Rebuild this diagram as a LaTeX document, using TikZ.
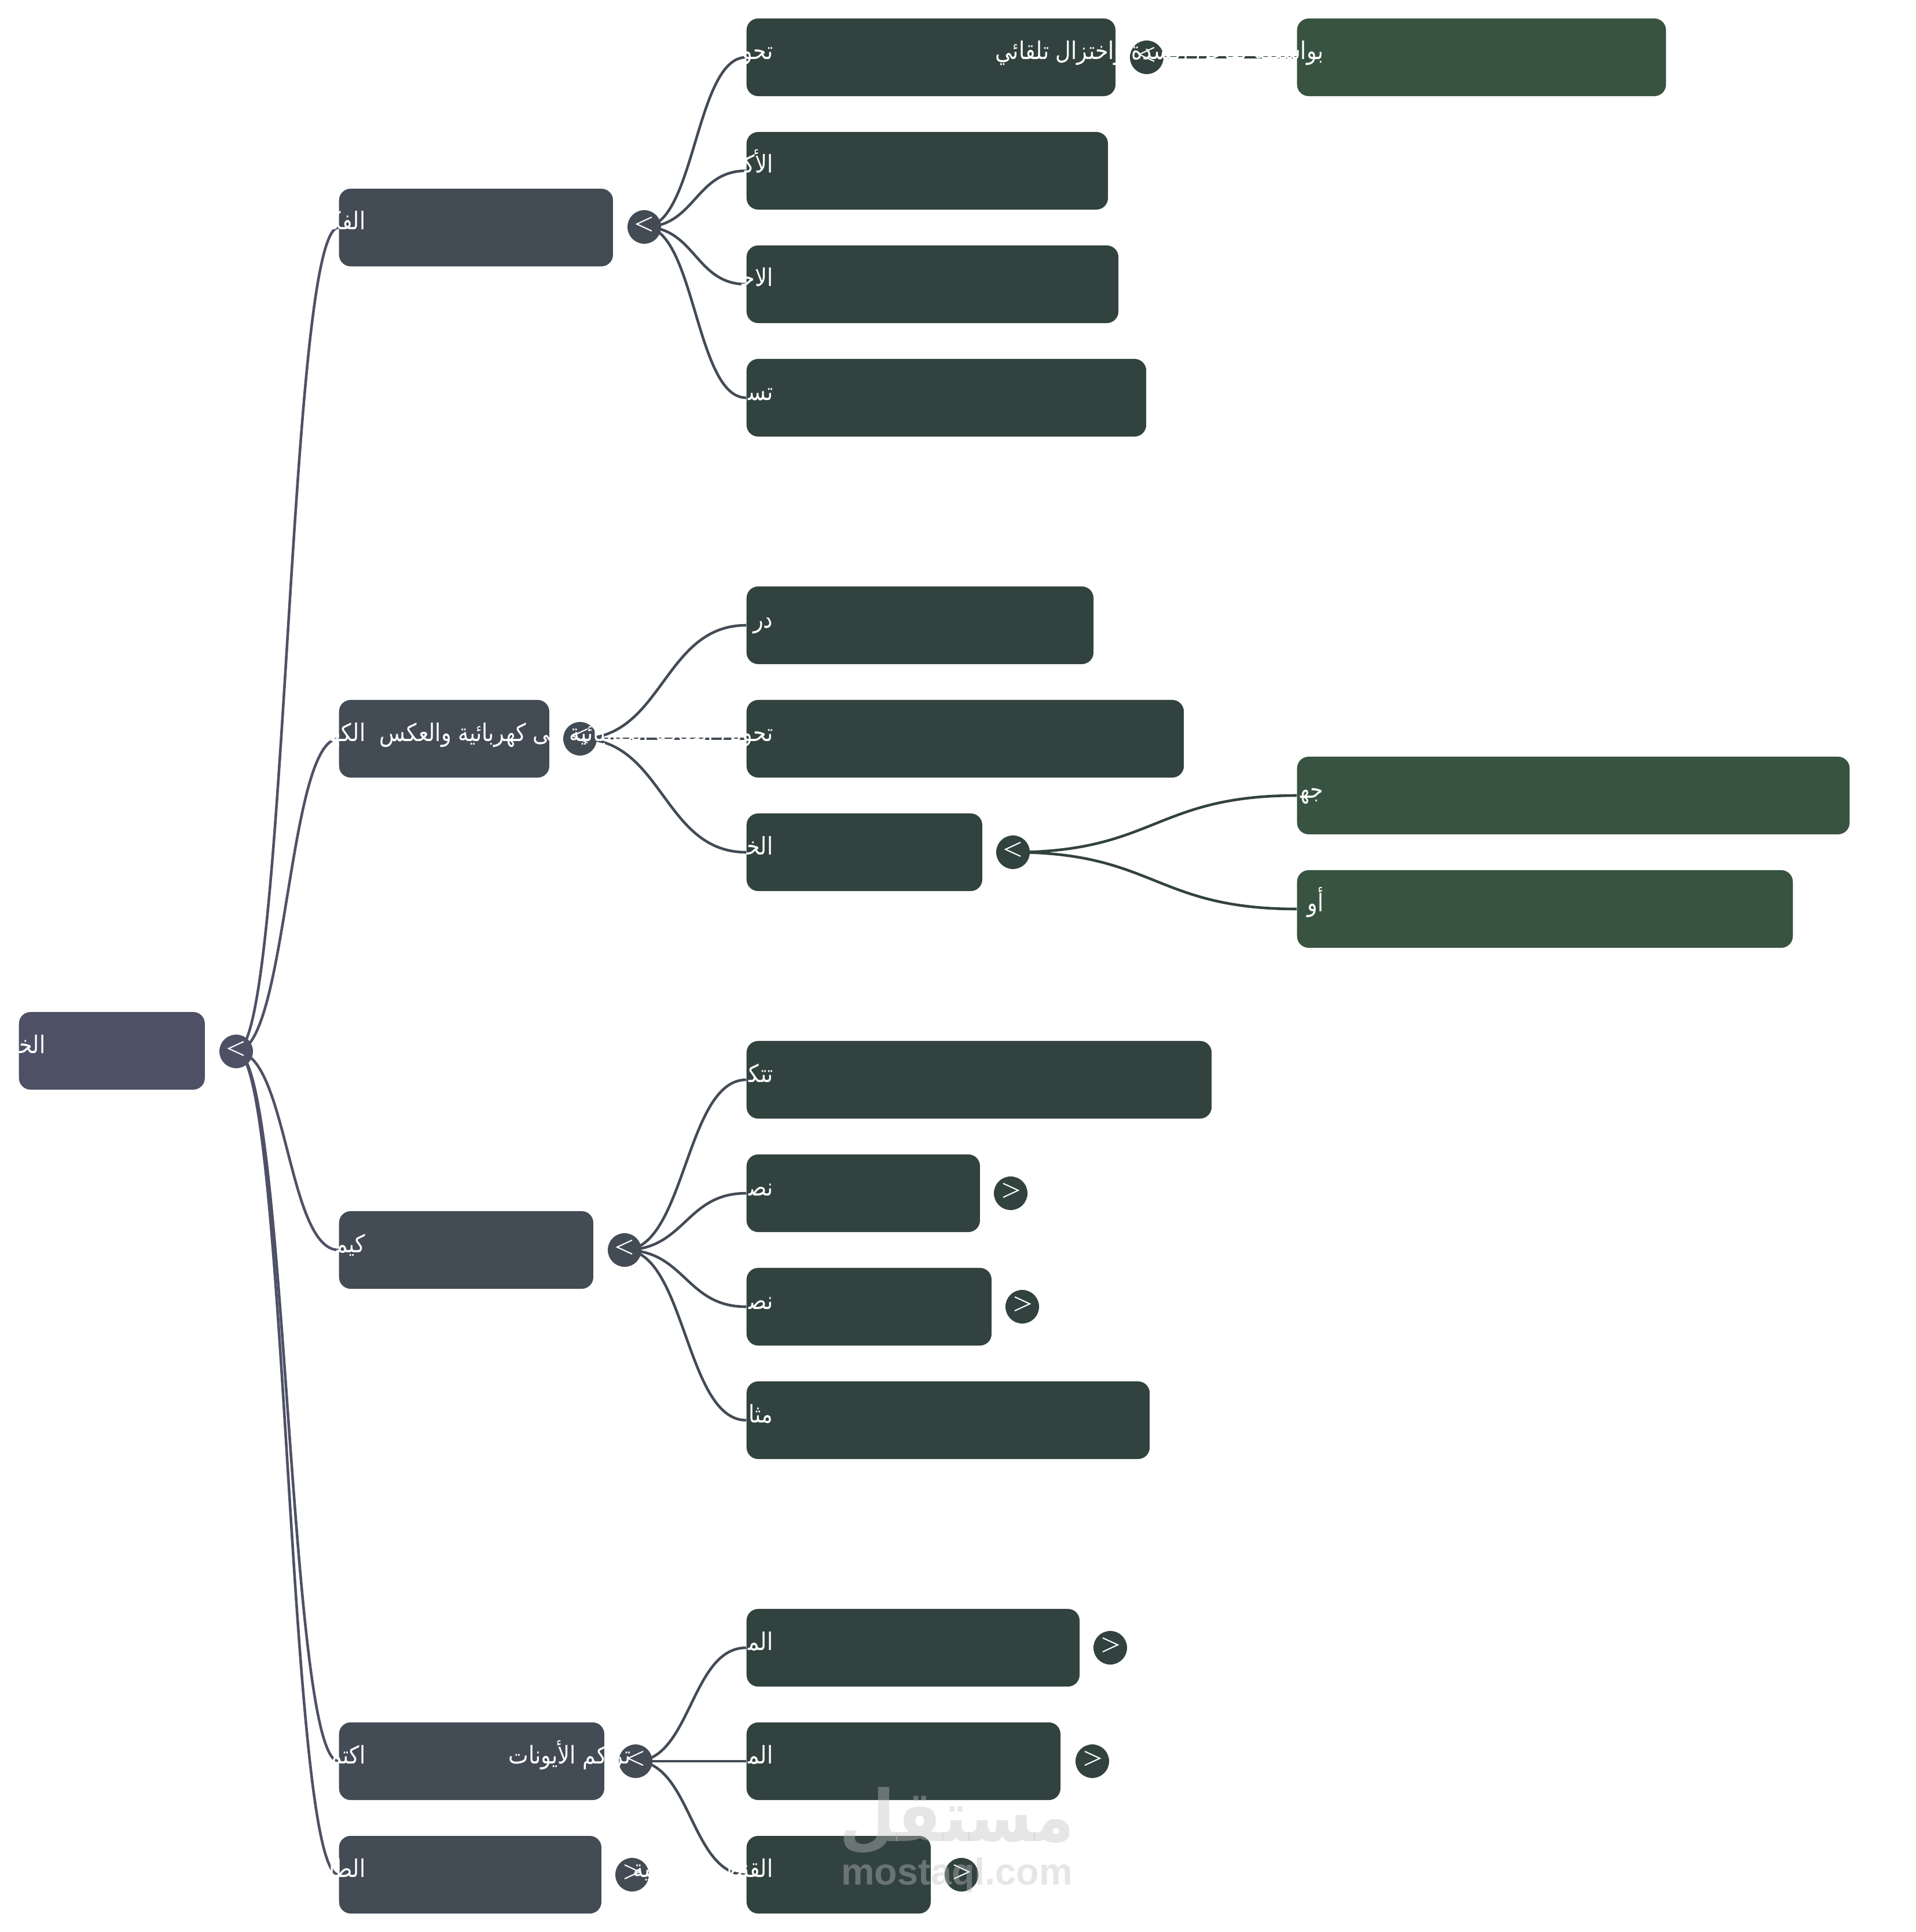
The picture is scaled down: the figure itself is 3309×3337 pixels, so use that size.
\documentclass[tikz,border=0pt]{standalone}
\usepackage{xcolor}
\usepackage{fontspec}
\usepackage{tikz}
\usetikzlibrary{calc,backgrounds}
\TeXXeTstate=1
\newfontfamily\arabicfont[Script=Arabic]{DejaVu Sans}
\newfontfamily\labelfont[Script=Arabic,FakeStretch=0.87]{DejaVu Sans}
\newfontfamily\markfont{Liberation Sans}
\newcommand{\ar}[1]{\beginR #1\endR}
\newcommand{\zj}{^^^^200d}
\definecolor{rootcol}{HTML}{4E5166}
\definecolor{topcol}{HTML}{434B55}
\definecolor{midcol}{HTML}{32423F}
\definecolor{leafcol}{HTML}{385340}
\definecolor{markcol}{HTML}{C0C0C0}
\begin{document}
\begin{tikzpicture}[
    x=0.01cm, y=-0.01cm,
    box/.style={anchor=west, inner sep=0, minimum height=1.34cm, rounded corners=0.2cm},
    rootbox/.style={box, fill=rootcol},
    topbox/.style={box, fill=topcol},
    midbox/.style={box, fill=midcol},
    leafbox/.style={box, fill=leafcol},
    knob/.style={circle, inner sep=0, minimum size=0.58cm},
    openknob/.style={knob, path picture={\draw[white, line width=0.6pt] ($(path picture bounding box.center)+(13,-17)$) -- +(-26,12) -- +(0,24);}},
    shutknob/.style={knob, path picture={\draw[white, line width=0.6pt] ($(path picture bounding box.center)+(-13,-17)$) -- +(26,12) -- +(0,24);}},
    wire/.style={line width=1.3pt},
    txt/.style={anchor=base east, inner sep=0, text=white, font=\fontsize{12}{14}\labelfont}
]
    \useasboundingbox (0,0) rectangle (3309,3337);

    % Root
    \node[rootbox, minimum width=3.21cm] (root) at (32,1815) {};
    \node[openknob, fill=rootcol] (croot) at (408,1816) {};

    % First level
    \node[topbox, minimum width=4.73cm] (fikra) at (585,393) {};
    \node[topbox, minimum width=3.63cm] (kahraba) at (585,1276) {};
    \node[topbox, minimum width=4.39cm] (kimya) at (585,2159) {};
    \node[topbox, minimum width=4.58cm] (iktimal) at (585,3042) {};
    \node[topbox, minimum width=4.53cm] (tali) at (585,3238) {};
    \node[openknob, fill=topcol] (cfikra) at (1113,392) {};
    \node[openknob, fill=topcol] (ckahraba) at (1002,1276) {};
    \node[openknob, fill=topcol] (ckimya) at (1079,2159) {};
    \node[openknob, fill=topcol] (ciktimal) at (1098,3042) {};
    \node[shutknob, fill=topcol] (ctali) at (1092,3238) {};

    % Second level
    \node[midbox, minimum width=6.37cm] (f1) at (1289,99) {};
    \node[midbox, minimum width=6.24cm] (f2) at (1289,295) {};
    \node[midbox, minimum width=6.42cm] (f3) at (1289,491) {};
    \node[midbox, minimum width=6.90cm] (f4) at (1289,687) {};
    \node[midbox, minimum width=5.99cm] (k1) at (1289,1080) {};
    \node[midbox, minimum width=7.55cm] (k2) at (1289,1276) {};
    \node[midbox, minimum width=4.07cm] (k3) at (1289,1472) {};
    \node[midbox, minimum width=8.03cm] (m1) at (1289,1865) {};
    \node[midbox, minimum width=4.03cm] (m2) at (1289,2061) {};
    \node[midbox, minimum width=4.23cm] (m3) at (1289,2257) {};
    \node[midbox, minimum width=6.96cm] (m4) at (1289,2453) {};
    \node[midbox, minimum width=5.75cm] (i1) at (1289,2846) {};
    \node[midbox, minimum width=5.42cm] (i2) at (1289,3042) {};
    \node[midbox, minimum width=3.18cm] (i3) at (1289,3238) {};
    \node[openknob, fill=midcol] (cf1) at (1981,99) {};
    \node[openknob, fill=midcol] (ck3) at (1750,1472) {};
    \node[shutknob, fill=midcol] (cm2) at (1746,2061) {};
    \node[shutknob, fill=midcol] (cm3) at (1766,2257) {};
    \node[shutknob, fill=midcol] (ci1) at (1918,2846) {};
    \node[shutknob, fill=midcol] (ci2) at (1887,3042) {};
    \node[shutknob, fill=midcol] (ci3) at (1661,3238) {};

    % Third level
    \node[leafbox, minimum width=6.37cm] (g1) at (2240,99) {};
    \node[leafbox, minimum width=9.54cm] (g2) at (2240,1374) {};
    \node[leafbox, minimum width=8.56cm] (g3) at (2240,1570) {};

    % Connections
    \begin{scope}[on background layer]
    \foreach \a/\b/\c in {croot/fikra/rootcol, croot/kahraba/rootcol, croot/kimya/rootcol, croot/iktimal/rootcol, croot/tali/rootcol,
        cfikra/f1/topcol, cfikra/f2/topcol, cfikra/f3/topcol, cfikra/f4/topcol,
        ckahraba/k1/topcol, ckahraba/k2/topcol, ckahraba/k3/topcol,
        ckimya/m1/topcol, ckimya/m2/topcol, ckimya/m3/topcol, ckimya/m4/topcol,
        ciktimal/i1/topcol, ciktimal/i2/topcol, ciktimal/i3/topcol,
        cf1/g1/midcol, ck3/g2/midcol, ck3/g3/midcol} {
        \coordinate (mid) at ($(\a.center)!.5!(\b.west)$);
        \draw[wire, \c] (\a.center) .. controls (mid |- \a.center) and (mid |- \b.west) .. (\b.west);
    }
    \end{scope}

    % Labels
    \node[txt] (troot) at ([shift={(47,4)}]root.west) {\ar{الخ\zj}};
    \node[txt] (tfikra) at ([shift={(47,4)}]fikra.west) {\ar{الفك\zj}};
    \node[txt] (tkahraba) at ([shift={(47,4)}]kahraba.west) {\ar{الكه\zj}};
    \node[txt] (tkimya) at ([shift={(47,4)}]kimya.west) {\ar{كيم\zj}};
    \node[txt] (tiktimal) at ([shift={(47,4)}]iktimal.west) {\ar{اكتم\zj}};
    \node[txt] (ttali) at ([shift={(47,4)}]tali.west) {\ar{الطا}};
    \node[txt] (tf1) at ([shift={(47,4)}]f1.west) {\ar{تحو}};
    \node[txt] (tf2) at ([shift={(47,4)}]f2.west) {\ar{الأك\zj}};
    \node[txt] (tf3) at ([shift={(47,4)}]f3.west) {\ar{الاح\zj}};
    \node[txt] (tf4) at ([shift={(47,4)}]f4.west) {\ar{تس\zj}};
    \node[txt] (tk1) at ([shift={(47,4)}]k1.west) {\ar{در}};
    \node[txt] (tk2) at ([shift={(47,4)}]k2.west) {\ar{تحويل الطاقة الكيميائية إلى كهربائية والعكس}};
    \node[txt] (tk3) at ([shift={(47,4)}]k3.west) {\ar{الخ\zj}};
    \node[txt] (tm1) at ([shift={(47,4)}]m1.west) {\ar{تتك\zj}};
    \node[txt] (tm2) at ([shift={(47,4)}]m2.west) {\ar{نص\zj}};
    \node[txt] (tm3) at ([shift={(47,4)}]m3.west) {\ar{نص\zj}};
    \node[txt] (tm4) at ([shift={(47,4)}]m4.west) {\ar{مثا}};
    \node[txt] (ti1) at ([shift={(47,4)}]i1.west) {\ar{الم\zj}};
    \node[txt] (ti2) at ([shift={(47,4)}]i2.west) {\ar{الم\zj}};
    \node[txt] (tions) at ([shift={(-8,4)}]ciktimal.center) {\ar{تراكم الأيونات}};
    \node[txt] (ti3) at ([shift={(47,4)}]i3.west) {\ar{القنطرة الملحية}};
    \node[txt] (tg1) at ([shift={(47,4)}]g1.west) {\ar{بواسطة تفاعل أكسدة واختزال تلقائي}};
    \node[txt] (tg2) at ([shift={(47,4)}]g2.west) {\ar{جه\zj}};
    \node[txt] (tg3) at ([shift={(47,4)}]g3.west) {\ar{أو}};

    % Watermark
    \node[inner sep=0, text=markcol, text opacity=0.4] (logo) at (1653,3145) {\resizebox*{4.05cm}{1.16cm}{\arabicfont\bfseries\ar{مستقل}}};
    \node[anchor=base, inner sep=0, text=markcol, text opacity=0.4, font=\fontsize{18.4}{20}\markfont\bfseries] (site) at (1653,3255) {mostaql.com};
\end{tikzpicture}
\end{document}
